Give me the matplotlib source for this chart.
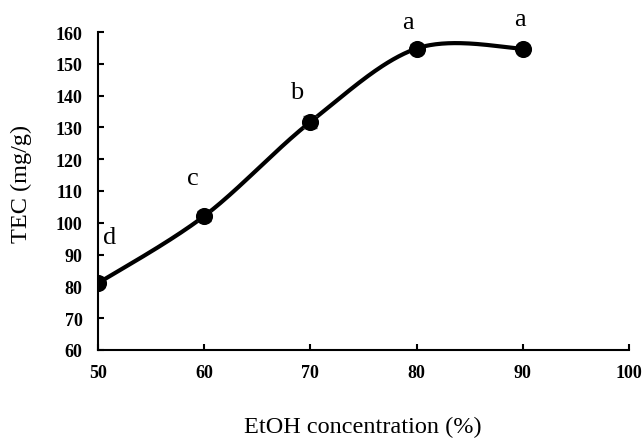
import numpy as np
import matplotlib
matplotlib.use("Agg")
import matplotlib.pyplot as plt

# Data
etoh = [50, 60, 70, 80, 90]
tec = [81.0, 102.1, 131.7, 154.8, 154.8]
err = [1.2, 1.5, 1.8, 1.5, 1.2]
letters = ["d", "c", "b", "a", "a"]
xticks = [50, 60, 70, 80, 90, 100]
yticks = [60, 70, 80, 90, 100, 110, 120, 130, 140, 150, 160]


def excel_smooth(xs, ys, n=60):
    P = np.column_stack([xs, ys]).astype(float)
    out = []
    m = len(P)
    for i in range(m - 1):
        p0 = P[i - 1] if i > 0 else P[i]
        p1 = P[i]
        p2 = P[i + 1]
        p3 = P[i + 2] if i + 2 < m else P[i + 1]
        c1 = p1 + (p2 - p0) / 6.0
        c2 = p2 - (p3 - p1) / 6.0
        t = np.linspace(0, 1, n)[:, None]
        seg = ((1 - t) ** 3) * p1 + 3 * ((1 - t) ** 2) * t * c1 + 3 * (1 - t) * t ** 2 * c2 + t ** 3 * p2
        out.append(seg if i == 0 else seg[1:])
    seg = np.vstack(out)
    return seg[:, 0], seg[:, 1]


fig = plt.figure(figsize=(6.43, 4.39), dpi=100)
ax = fig.add_axes([0.1524, 0.2005, 0.978 - 0.1524, 0.9248 - 0.2005])

sx, sy = excel_smooth(etoh, tec)
ax.plot(sx, sy, color="black", lw=3.0, zorder=2, solid_capstyle="round")
ax.errorbar(etoh, tec, yerr=err, fmt="none", ecolor="#555555", elinewidth=1.0,
            capsize=5, capthick=1.0, zorder=3)
ax.plot(etoh, tec, "o", color="black", markersize=11.3, zorder=4)

# label offsets in pixels (dx right, dy up)
offsets = [(12, 46), (-11, 38), (-14, 30), (-9, 27), (-3, 30)]
for x, y, lab, (dx, dy) in zip(etoh, tec, letters, offsets):
    ax.text(x + dx * 50 / 531, y + dy * 100 / 318, lab, fontsize=19,
            family="Liberation Serif", ha="center", va="center")

ax.set_xlim(50, 100)
ax.set_ylim(60, 160)
ax.set_xticks(xticks)
ax.set_yticks(yticks)
for s in ["top", "right"]:
    ax.spines[s].set_visible(False)
for s in ["left", "bottom"]:
    ax.spines[s].set_linewidth(1.5)
ax.tick_params(direction="in", length=4, width=1.5)
ax.tick_params(axis="x", pad=10)
ax.tick_params(axis="y", pad=11)
for lbl in ax.get_xticklabels() + ax.get_yticklabels():
    lbl.set_fontfamily("Liberation Serif")
    lbl.set_fontweight("bold")
    lbl.set_fontsize(13)

fig.text(363 / 643, 1 - 427 / 439, "EtOH concentration (%)", family="Liberation Serif",
         fontsize=17.5, ha="center", va="center")
fig.text(21 / 643, 1 - 184 / 439, "TEC (mg/g)", family="Liberation Serif",
         fontsize=17.5, ha="center", va="center", rotation=90)

fig.savefig("out.png", dpi=100)
